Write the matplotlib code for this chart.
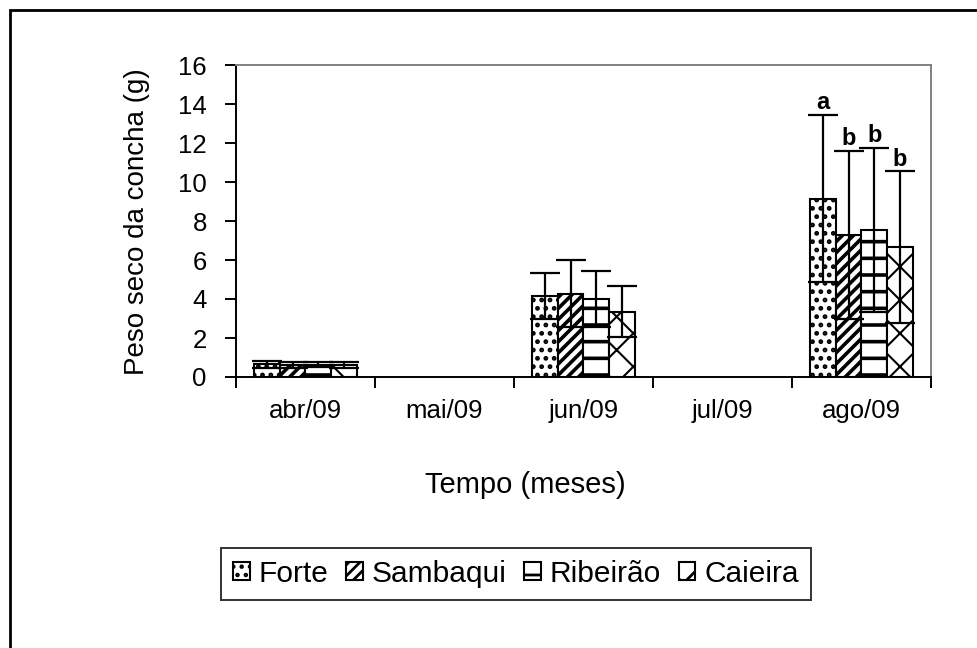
import matplotlib
matplotlib.use("Agg")
import matplotlib.pyplot as plt
import numpy as np
from matplotlib.patches import Rectangle

plt.rcParams['font.family'] = ['Liberation Sans', 'DejaVu Sans']
plt.rcParams['hatch.linewidth'] = 2.0
plt.rcParams['hatch.color'] = 'black'

# dados: peso seco da concha (g), media e desvio padrao por local
meses = ['abr/09', 'mai/09', 'jun/09', 'jul/09', 'ago/09']
locais = ['Forte', 'Sambaqui', 'Ribeirão', 'Caieira']
forte = [0.65, np.nan, 4.15, np.nan, 9.15]
sambaqui = [0.62, np.nan, 4.28, np.nan, 7.3]
ribeirao = [0.64, np.nan, 4.0, np.nan, 7.55]
caieira = [0.62, np.nan, 3.35, np.nan, 6.65]
dp_forte = [0.17, np.nan, 1.2, np.nan, 4.3]
dp_sambaqui = [0.17, np.nan, 1.7, np.nan, 4.3]
dp_ribeirao = [0.15, np.nan, 1.42, np.nan, 4.2]
dp_caieira = [0.15, np.nan, 1.3, np.nan, 3.9]
letras_ago = ['a', 'b', 'b', 'b']

medias = [forte, sambaqui, ribeirao, caieira]
desvios = [dp_forte, dp_sambaqui, dp_ribeirao, dp_caieira]
hachuras = ['..', '///', '-', 'x']
espessura_hachura = [2.2, 2.6, 2.6, 1.5]

fig = plt.figure(figsize=(9.78, 6.48), dpi=100)
ax = fig.add_axes([236/978, 1-377/648, (931-236)/978, (377-65)/648])

x = np.arange(len(meses))
w = 0.185
for i in range(4):
    pos = x + (i - 1.5) * w
    barras = ax.bar(pos, medias[i], w, color='white', edgecolor='black', linewidth=1.5,
                    hatch=hachuras[i], label=locais[i], zorder=2)
    for b in barras:
        try:
            b.set_hatch_linewidth(espessura_hachura[i])
        except AttributeError:
            pass
    ax.errorbar(pos, medias[i], yerr=desvios[i], fmt='none', ecolor='black',
                elinewidth=1.6, capsize=11, capthick=1.6, zorder=3)
    # letras de significancia no ultimo mes
    topo = medias[i][4] + desvios[i][4]
    ax.text(pos[4], topo + 0.02, letras_ago[i], ha='center', va='bottom',
            fontsize=17, fontweight='bold')

ax.set_xlim(-0.5, len(meses) - 0.5)
ax.set_ylim(0, 16)
ax.set_yticks(np.arange(0, 17, 2))
ax.set_xticks(np.arange(-0.5, len(meses), 1))
ax.set_xticklabels([])
ax.set_xticks(x, minor=True)
ax.set_xticklabels(meses, minor=True)
ax.tick_params(axis='x', which='major', direction='out', length=8, width=1.4)
ax.tick_params(axis='x', which='minor', length=0, pad=16, labelsize=18.5)
ax.tick_params(axis='y', direction='out', length=8, width=1.4, pad=13, labelsize=18.5)

for s in ['top', 'right']:
    ax.spines[s].set_color('#808080')
    ax.spines[s].set_linewidth(1.4)
for s in ['left', 'bottom']:
    ax.spines[s].set_color('black')
    ax.spines[s].set_linewidth(1.4)

fig.text(525/978, 1-485/648, 'Tempo (meses)', ha='center', va='center', fontsize=21)
fig.text(137/978, 1-222/648, 'Peso seco da concha (g)', ha='center', va='center',
         rotation=90, fontsize=20)

leg = fig.legend(loc='center', bbox_to_anchor=(516/978, 1-574/648), ncol=4,
                 fontsize=21.5, frameon=True, fancybox=False, handlelength=0.55,
                 handleheight=0.55, handletextpad=0.3, columnspacing=0.6,
                 borderpad=0.4, borderaxespad=0)
leg.get_frame().set_edgecolor('black')
leg.get_frame().set_linewidth(1.4)

# moldura externa
fig.patches.append(Rectangle((10/978, -0.1), 1.2, 1 - 9.5/648 + 0.1,
                             transform=fig.transFigure, fill=False,
                             edgecolor='black', linewidth=2.0))

fig.savefig('out.png', dpi=100)
